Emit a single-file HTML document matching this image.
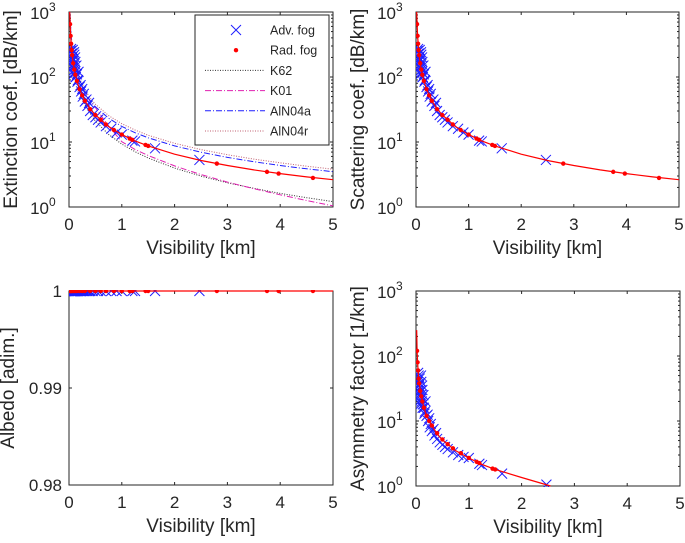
<!DOCTYPE html>
<html><head><meta charset="utf-8"><style>
html,body{margin:0;padding:0;background:#fff;}
svg{display:block;font-family:"Liberation Sans",sans-serif;}
</style></head><body>
<svg id="fig" width="685" height="543" viewBox="0 0 685 543"></svg>
<script>
// ---- data ----
const curveV = [0.013,0.02,0.03,0.05,0.075,0.1,0.15,0.2,0.3,0.4,0.5,0.75,1,1.25,1.5,2,2.5,3,3.5,4,4.5,5];
const fitExt = [1000,650,433,260,173,130,87,65,43,32.5,26,17.3,13,10.4,8.7,6.5,5.2,4.35,3.72,3.27,2.9,2.63];
const k62 = [1000,700,470,272,185,128,88,59.6,37.7,27.5,21,13.1,9.27,7.1,5.67,3.96,2.99,2.36,1.94,1.62,1.39,1.21];
const k01 = [1000,850,567,340,227,170,113,85,56.7,42.5,34,17.5,10.1,7.7,6.2,4.29,3.15,2.42,1.91,1.54,1.26,1.04];
const aln04a = [1000,870,580,348,232,174,116,87,58,43.5,34.8,23.2,17.4,13.9,11.6,8.7,6.96,5.8,4.97,4.35,3.87,3.49];
const aln04r = [1000,955,637,382,255,191,127,95.5,63.7,47.8,38.2,25.5,19.1,15.3,12.7,9.55,7.64,6.37,5.46,4.78,4.24,3.82];
const asymV = [0.013,0.02,0.03,0.05,0.075,0.1,0.15,0.2,0.3,0.4,0.5,0.75,1,1.25,1.5,2,2.55];
const fitAsym = [250,120,80,45,32,24,16,12,8.5,6.3,5.1,3.5,2.7,2.15,1.8,1.35,1.0];
const advV = [0.03,0.035,0.04,0.045,0.05,0.055,0.06,0.065,0.07,0.075,0.08,0.085,0.09,0.095,0.1,0.105,0.11,0.115,0.12,0.125,0.13,0.14,0.15,0.16,0.17,0.18,0.2,0.22,0.23,0.25,0.26,0.28,0.3,0.33,0.35,0.38,0.4,0.45,0.5,0.55,0.6,0.7,0.8,0.9,1.0,1.2,1.25,1.63,2.47];
const advExt = [250,180,270,200,230,150,200,120,260,140,180,110,150,240,220,130,120,200,170,100,100,150,110,85,90,120,70,75,60,65,50,55,42,45,36,40,30,26,24,22,20,17.5,16,14,13,10.5,10.2,8,5.3];
const advAsym = [40,30,55,35,50,25,35,20,45,28,30,18,25,50,40,22,20,35,30,16,18,25,16,13,14,20,12,12.5,10,11,8,9,7,7.5,6,6.5,5.3,4.7,4.3,4,3.7,3.3,3,2.8,2.7,2.2,2.1,1.55,1.05];
const advAlb = advV.map(()=>1);
const radV = [0.02,0.03,0.04,0.05,0.06,0.08,0.1,0.12,0.15,0.2,0.25,0.3,0.4,0.5,0.6,0.7,0.85,1.0,1.15,1.2,1.45,1.5,2.8,3.75,3.97,4.62];
const radExt = [650,430,325,260,217,163,130,108,87,65,52,43,32,26,22,18.6,15.3,13,11.3,10.8,9,8.7,4.65,3.47,3.27,2.8];
const radAsym = [120,80,60,45,38,29,24,20,16,12,10,8.5,6.5,5.2,4.4,3.8,3.2,2.7,2.35,2.25,1.85,1.8,null,null,null,null];
const radAlb = radV.map(()=>1);
const xTicks = [0,1,2,3,4,5];
const logTicks = [0,1,2,3];
const albTicks = [0.98,0.99,1];

// ---- drawing ----
const NS='http://www.w3.org/2000/svg';
const svg=document.getElementById('fig');
function mk(tag,attrs,parent){const e=document.createElementNS(NS,tag);for(const k in attrs)e.setAttribute(k,attrs[k]);(parent||svg).appendChild(e);return e;}

function panel(name,box,yType,yLabel){
  const g=mk('g',{});
  
  
  const xs=v=>box.l+(v/5)*(box.r-box.l);
  let ys;
  if(yType==='log') ys=v=>box.b-(Math.log10(v)/3)*(box.b-box.t);
  else ys=v=>box.b-((v-0.98)/0.02)*(box.b-box.t);
  const frame=mk('rect',{x:box.l,y:box.t,width:box.r-box.l,height:box.b-box.t,fill:'none',stroke:'#262626','stroke-width':1},g);
  
  
  xTicks.forEach(t=>{
    const x=xs(t);
    mk('line',{x1:x,y1:box.b,x2:x,y2:box.b-3,stroke:'#262626'},g);
    mk('line',{x1:x,y1:box.t,x2:x,y2:box.t+3,stroke:'#262626'},g);
    const tx=mk('text',{x:x,y:box.b+23,'text-anchor':'middle','font-size':17,fill:'#262626'},g);
    tx.textContent=t;
    
    
  });
  const xl=mk('text',{x:(box.l+box.r)/2,y:box.b+47,'text-anchor':'middle','font-size':19,fill:'#262626'},g);
  xl.textContent='Visibility [km]';
  
  
  if(yType==='log'){
    logTicks.forEach(p=>{
      const y=ys(Math.pow(10,p));
      mk('line',{x1:box.l,y1:y,x2:box.l+3,y2:y,stroke:'#262626'},g);
      mk('line',{x1:box.r,y1:y,x2:box.r-3,y2:y,stroke:'#262626'},g);
      if(p<3)for(let m=2;m<10;m++){const ym=ys(m*Math.pow(10,p));
        mk('line',{x1:box.l,y1:ym,x2:box.l+2,y2:ym,stroke:'#262626'},g);
        mk('line',{x1:box.r,y1:ym,x2:box.r-2,y2:ym,stroke:'#262626'},g);}
      const tx=mk('text',{x:box.l-20,y:y+7,'text-anchor':'end','font-size':17,fill:'#262626'},g);
      tx.textContent='10';
      
      
      const sp=mk('text',{x:box.l-20,y:y-1,'text-anchor':'start','font-size':12,fill:'#262626'},g);
      sp.textContent=p;
    });
  } else {
    albTicks.forEach(t=>{
      const y=ys(t);
      mk('line',{x1:box.l,y1:y,x2:box.l+3,y2:y,stroke:'#262626'},g);
      mk('line',{x1:box.r,y1:y,x2:box.r-3,y2:y,stroke:'#262626'},g);
      const tx=mk('text',{x:box.l-7,y:y+6,'text-anchor':'end','font-size':17,fill:'#262626'},g);
      tx.textContent=t;
      
      
    });
  }
  const cy=(box.t+box.b)/2;
  const yl=mk('text',{x:0,y:0,'text-anchor':'middle','font-size':19,fill:'#262626',transform:`translate(${box.l-(yType==='log'?52:55)},${cy}) rotate(-90)`},g);
  yl.textContent=yLabel;
  
  
  const clip='clip'+name;
  const cp=mk('clipPath',{id:clip},g);mk('rect',{x:box.l,y:box.t-1,width:box.r-box.l,height:box.b-box.t+2},cp);
  const plot=mk('g',{'clip-path':`url(#${clip})`},g);
  return {xs,ys,plot};
}
function line(P,X,Y,attrs,name){
  let d='';X.forEach((x,i)=>{if(Y[i]==null)return;d+=(d?'L':'M')+P.xs(x).toFixed(1)+','+P.ys(Y[i]).toFixed(1);});
  const p=mk('path',Object.assign({d:d,fill:'none'},attrs),P.plot);
  
  
}
function crosses(P,X,Y){
  X.forEach((x,i)=>{if(Y[i]==null)return;const cx=P.xs(x),cy=P.ys(Y[i]);
    const c=mk('path',{d:`M${cx-5},${cy-5}L${cx+5},${cy+5}M${cx-5},${cy+5}L${cx+5},${cy-5}`,stroke:'#1f1fff','stroke-width':1},P.plot);
    
    });
}
function dots(P,X,Y){
  X.forEach((x,i)=>{if(Y[i]==null)return;
    const c=mk('circle',{cx:P.xs(x),cy:P.ys(Y[i]),r:2.2,fill:'#ff0000'},P.plot);
    
    });
}

// Panel 1: extinction
const A=panel('extinction-panel',{l:69,r:333,t:12,b:207},'log','Extinction coef. [dB/km]');
line(A,curveV,k62,{stroke:'#333','stroke-width':1,'stroke-dasharray':'1,1.5'},'k62-line');
line(A,curveV,k01,{stroke:'#e020b0','stroke-width':1,'stroke-dasharray':'6,2,1,2'},'k01-line');
line(A,curveV,aln04a,{stroke:'#1f1fff','stroke-width':1,'stroke-dasharray':'6,2,1,2'},'aln04a-line');
line(A,curveV,aln04r,{stroke:'#c06070','stroke-width':1,'stroke-dasharray':'1,1.5'},'aln04r-line');
crosses(A,advV,advExt);
line(A,curveV,fitExt,{stroke:'#ff0000','stroke-width':1.2},'fit-line');
dots(A,radV,radExt);

// Legend
const lg=mk('g',{});


mk('rect',{x:195,y:15,width:134,height:130,fill:'#fff',stroke:'#262626','stroke-width':1},lg);
const entries=[['Adv. fog','x'],['Rad. fog','dot'],['K62','#333|1,1.5'],['K01','#e020b0|6,2,1,2'],['AlN04a','#1f1fff|6,2,1,2'],['AlN04r','#c06070|1,1.5']];
entries.forEach((e,i)=>{
  const y=30+i*20.2;
  if(e[1]==='x'){mk('path',{d:`M${236-5},${y-5}L${236+5},${y+5}M${236-5},${y+5}L${236+5},${y-5}`,stroke:'#1f1fff'},lg);}
  else if(e[1]==='dot'){mk('circle',{cx:236,cy:y,r:2.2,fill:'#ff0000'},lg);}
  else{const [c,da]=e[1].split('|');mk('line',{x1:205,y1:y,x2:265,y2:y,stroke:c,'stroke-dasharray':da},lg);}
  const t=mk('text',{x:270,y:y+4.5,'font-size':12.5,fill:'#262626'},lg);
  t.textContent=e[0];
  
  
});

// Panel 2: scattering
const B=panel('scattering-panel',{l:416,r:679,t:12,b:207},'log','Scattering coef. [dB/km]');
crosses(B,advV,advExt);
line(B,curveV,fitExt,{stroke:'#ff0000','stroke-width':1.2},'fit-line');
dots(B,radV,radExt);

// Panel 3: albedo
const C=panel('albedo-panel',{l:69,r:333,t:291,b:485},'lin','Albedo [adim.]');
line(C,[0,5],[1,1],{stroke:'#1f1fff','stroke-width':1,'stroke-dasharray':'6,2,1,2'},'albedo-line');
crosses(C,advV,advAlb);
line(C,[0.013,5],[1,1],{stroke:'#ff0000','stroke-width':1.2},'fit-line');
dots(C,radV,radAlb);

// Panel 4: asymmetry
const D=panel('asymmetry-panel',{l:416,r:680,t:291,b:486},'log','Asymmetry factor [1/km]');
crosses(D,advV,advAsym);
line(D,asymV,fitAsym,{stroke:'#ff0000','stroke-width':1.2},'fit-line');
dots(D,radV,radAsym);
</script>
</body></html>
